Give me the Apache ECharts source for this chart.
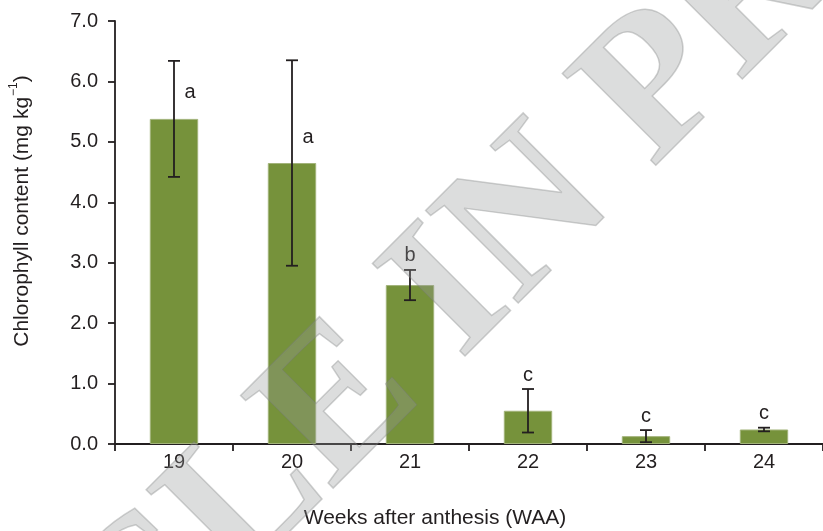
<!DOCTYPE html>
<html>
<head>
<meta charset="utf-8">
<script src="https://cdn.jsdelivr.net/npm/echarts@6/dist/echarts.min.js"></script>
<style>
  html, body { margin: 0; padding: 0; background: #fff; }
  #chart { width: 823px; height: 531px; }
</style>
</head>
<body>
<div id="chart"></div>
<script>
// Chlorophyll content by week after anthesis (mean ± SD) with significance groups
const weeks = ['19', '20', '21', '22', '23', '24'];
const chlorophyll = [5.38, 4.65, 2.63, 0.55, 0.13, 0.24];
const chlorophyllSD = [0.96, 1.70, 0.25, 0.36, 0.10, 0.03];
const groupLetters = ['a', 'a', 'b', 'c', 'c', 'c'];
const yTicks = { min: 0, max: 7, interval: 1 };

const ink = '#231f20';
const font = 'Arial, "Liberation Sans", Helvetica, sans-serif';

const chart = echarts.init(document.getElementById('chart'), null, { renderer: 'canvas' });

function renderErrorBar(params, api) {
  const i = api.value(0);
  const mean = api.value(1);
  const sd = api.value(2);
  const hi = api.coord([i, mean + sd]);
  const lo = api.coord([i, mean - sd]);
  const top = api.coord([i, mean]);
  const cap = 6;
  const lineStyle = { stroke: ink, lineWidth: 1.8 };
  const letter = groupLetters[params.dataIndex];
  // long whiskers push the letter beside the bar instead of above the cap
  const beside = sd >= 0.5;
  const tx = beside ? hi[0] + 16 : hi[0];
  const ty = beside ? top[1] - 26 : hi[1] - 14;
  return {
    type: 'group',
    children: [
      { type: 'line', shape: { x1: hi[0], y1: hi[1], x2: lo[0], y2: lo[1] }, style: lineStyle },
      { type: 'line', shape: { x1: hi[0] - cap, y1: hi[1], x2: hi[0] + cap, y2: hi[1] }, style: lineStyle },
      { type: 'line', shape: { x1: lo[0] - cap, y1: lo[1], x2: lo[0] + cap, y2: lo[1] }, style: lineStyle },
      {
        type: 'text',
        x: tx, y: ty,
        style: {
          text: letter, fill: ink, font: '20px ' + font,
          textAlign: 'center', textVerticalAlign: 'middle'
        }
      }
    ]
  };
}

// diagonal watermark text
const wmStyle = {
  font: 'bold 200px "Liberation Serif", "Times New Roman", serif',
  fill: 'rgba(150,152,152,0.33)',
  stroke: 'rgba(120,122,122,0.35)',
  lineWidth: 1.5,
  textVerticalAlign: 'middle'
};

chart.setOption({
  animation: false,
  backgroundColor: '#ffffff',
  grid: { left: 115, right: 0, top: 21, bottom: 87, containLabel: false, outerBoundsMode: 'none' },
  xAxis: {
    type: 'category',
    data: weeks,
    boundaryGap: true,
    name: 'Weeks after anthesis (WAA)',
    nameLocation: 'middle',
    nameGap: 64,
    nameTextStyle: { color: ink, fontSize: 21, fontFamily: font, padding: [0, 68, 0, 0] },
    axisLine: { lineStyle: { color: ink, width: 1.8 } },
    axisTick: { show: true, inside: false, length: 7, alignWithLabel: false, lineStyle: { color: ink, width: 1.8 } },
    axisLabel: { color: ink, fontSize: 20, fontFamily: font, margin: 8 },
    splitLine: { show: false }
  },
  yAxis: {
    type: 'value',
    min: yTicks.min,
    max: yTicks.max,
    interval: yTicks.interval,
    name: '{n|Chlorophyll content (mg kg}{s|−1}{n|)}',
    nameLocation: 'middle',
    nameGap: 82,
    nameRotate: 90,
    nameTextStyle: {
      color: ink,
      padding: [0, 0, 0, 43],
      rich: {
        n: { fontSize: 21, fontFamily: font, color: ink, lineHeight: 25, verticalAlign: 'bottom' },
        s: { fontSize: 12, fontFamily: font, color: ink, lineHeight: 25, verticalAlign: 'top', padding: [0, 0, 0, 1] }
      }
    },
    axisLine: { show: true, lineStyle: { color: ink, width: 1.8 } },
    axisTick: { show: true, inside: false, length: 7, lineStyle: { color: ink, width: 1.8 } },
    axisLabel: { color: ink, fontSize: 20, fontFamily: font, margin: 17, formatter: v => v.toFixed(1) },
    splitLine: { show: false }
  },
  series: [
    {
      type: 'bar',
      data: chlorophyll,
      barWidth: '41%',
      itemStyle: { color: '#76923b', borderColor: '#a2b37a', borderWidth: 1 },
      z: 2
    },
    {
      type: 'custom',
      data: weeks.map((w, i) => [i, chlorophyll[i], chlorophyllSD[i]]),
      renderItem: renderErrorBar,
      encode: { x: 0, y: 1 },
      z: 3
    }
  ],
  graphic: [
    {
      type: 'text', silent: true, z: 100,
      x: 581, y: 167, rotation: Math.PI / 4,
      style: Object.assign({ text: 'ARTICLE IN', textAlign: 'right' }, wmStyle)
    },
    {
      type: 'text', silent: true, z: 100,
      x: 616, y: 132, rotation: Math.PI / 4,
      style: Object.assign({ text: 'PRESS', textAlign: 'left' }, wmStyle)
    }
  ]
});
</script>
</body>
</html>
